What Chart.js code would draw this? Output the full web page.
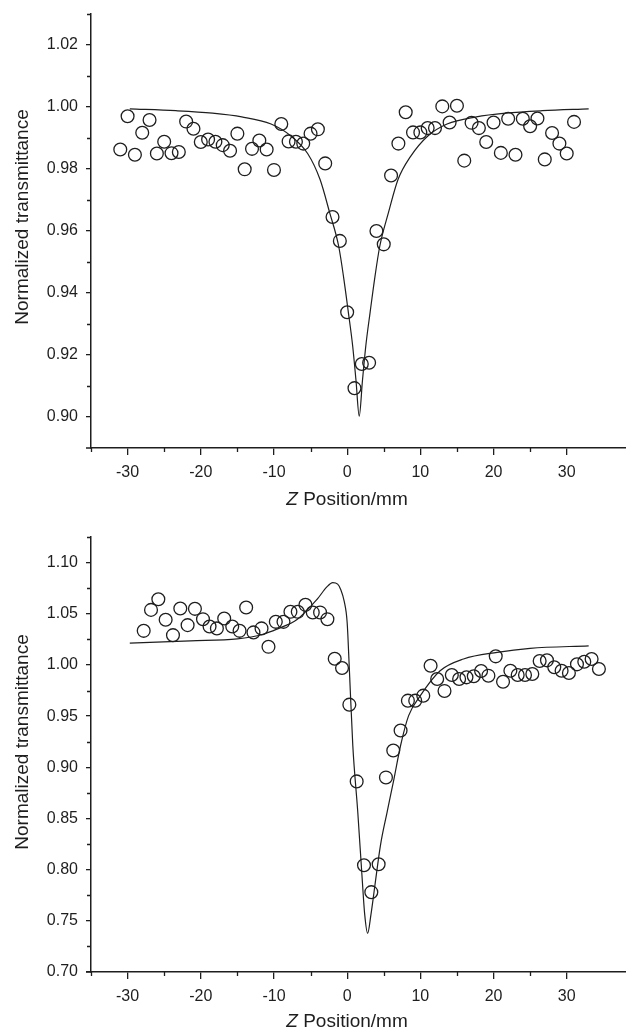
<!DOCTYPE html>
<html lang="en">
<head>
<meta charset="UTF-8">
<title>Z-scan normalized transmittance</title>
<script src="https://cdn.jsdelivr.net/npm/chart.js"></script>
<style>
  body { margin: 0; width: 626px; height: 1030px; overflow: hidden; background: #fff;
         font-family: "Liberation Sans", Arial, sans-serif; color: #1e1e1e; }
  canvas { position: absolute; left: 0; }
  #top { top: 0; }
  #bottom { top: 520px; }
  .ytitle { position: absolute; left: 22px; font-size: 19px; white-space: nowrap;
            transform: translate(-50%, -50%) rotate(-90deg); }
  .xtitle { position: absolute; left: 347px; font-size: 19px; white-space: nowrap;
            transform: translate(-50%, -50%); }
</style>
</head>
<body>
<canvas id="top" width="626" height="500"></canvas>
<canvas id="bottom" width="626" height="510"></canvas>
<div class="ytitle" style="top:217px">Normalized transmittance</div>
<div class="xtitle" style="top:499px"><i>Z</i> Position/mm</div>
<div class="ytitle" style="top:742px">Normalized transmittance</div>
<div class="xtitle" style="top:1021px"><i>Z</i> Position/mm</div>

<script>
// upper panel: measured points
const topX = [-31, -30, -29, -28, -27, -26, -25, -24, -23, -22, -21, -20, -19, -18, -17, -16,
              -15, -14, -13, -12, -11, -10, -9, -8, -7, -6, -5, -4, -3, -2, -1, 0,
              1, 2, 3, 4, 5, 6, 7, 8, 9, 10, 11, 12, 13, 14, 15, 16,
              17, 18, 19, 20, 21, 22, 23, 24, 25, 26, 27, 28, 29, 30, 31];
const topY = [0.9863, 0.9970, 0.9846, 0.9917, 0.9958, 0.9850, 0.9888, 0.9851, 0.9855, 0.9953, 0.9930, 0.9887, 0.9895, 0.9888, 0.9877, 0.9859,
              0.9914, 0.9799, 0.9865, 0.9892, 0.9863, 0.9797, 0.9945, 0.9889, 0.9888, 0.9882, 0.9914, 0.9928, 0.9818, 0.9645, 0.9568, 0.9338,
              0.9093, 0.9171, 0.9175, 0.9600, 0.9557, 0.9779, 0.9882, 0.9983, 0.9918, 0.9918, 0.9932, 0.9932, 1.0002, 0.9950, 1.0004, 0.9827,
              0.9949, 0.9932, 0.9887, 0.9950, 0.9852, 0.9962, 0.9846, 0.9962, 0.9938, 0.9963, 0.9831, 0.9916, 0.9882, 0.9850, 0.9952];
// upper panel: fitted curve
const topFitX = [-29.7, -23.4, -18.4, -14.4, -10.4, -7.6, -5.4, -3.7, -2.4, -1.15, -0.45, 0.15, 0.75, 1.2, 1.65,
                 2.1, 2.55, 3.15, 3.75, 4.45, 5.65, 6.95, 8.65, 10.95, 13.65, 17.65, 21.65, 26.65, 33.0];
const topFitY = [0.9994, 0.9988, 0.9980, 0.9968, 0.9945, 0.9905, 0.9850, 0.9766, 0.9660, 0.9550, 0.9445, 0.9340, 0.9230, 0.9120, 0.9003,
                 0.9120, 0.9230, 0.9340, 0.9445, 0.9550, 0.9660, 0.9766, 0.9840, 0.9905, 0.9945, 0.9968, 0.9980, 0.9988, 0.9994];

// lower panel: measured points
const botX = [-27.8, -26.8, -25.8, -24.8, -23.8, -22.8, -21.8, -20.8, -19.7, -18.8, -17.8, -16.8, -15.7, -14.7, -13.8, -12.8,
              -11.7, -10.75, -9.75, -8.7, -7.75, -6.75, -5.7, -4.7, -3.7, -2.7, -1.7, -0.7, 0.3, 1.3, 2.3, 3.3,
              4.3, 5.3, 6.3, 7.3, 8.3, 9.3, 10.4, 11.4, 12.3, 13.3, 14.3, 15.3, 16.3, 17.3, 18.3, 19.3,
              20.3, 21.3, 22.3, 23.3, 24.3, 25.3, 26.3, 27.3, 28.3, 29.3, 30.3, 31.4, 32.4, 33.4, 34.4];
const botY = [1.0333, 1.0538, 1.0642, 1.0441, 1.0291, 1.0552, 1.0389, 1.0548, 1.0447, 1.0376, 1.0357, 1.0454, 1.0376, 1.0333, 1.0561, 1.0318,
              1.0357, 1.0177, 1.0421, 1.0421, 1.0519, 1.0519, 1.0587, 1.0513, 1.0513, 1.0447, 1.0060, 0.9970, 0.9612, 0.8862, 0.8043, 0.7780,
              0.8053, 0.8901, 0.9164, 0.9359, 0.9651, 0.9651, 0.9700, 0.9992, 0.9863, 0.9746, 0.9902, 0.9863, 0.9879, 0.9889, 0.9941, 0.9895,
              1.0084, 0.9836, 0.9943, 0.9902, 0.9902, 0.9911, 1.0038, 1.0045, 0.9977, 0.9943, 0.9921, 1.0006, 1.0031, 1.0058, 0.9960];
// lower panel: fitted curve
const botFitX = [-29.7, -21.4, -15.0, -11.5, -9.6, -6.8, -4.1, -2.8, -1.97, -1.3, -0.9, -0.4, 0.0, 0.3, 0.77, 1.45, 2.05, 2.4, 2.8,
                 3.25, 3.8, 4.55, 5.46, 6.4, 7.3, 8.4, 10.0, 12.7, 15.9, 20.5, 25.0, 33.0];
const botFitY = [1.0214, 1.0236, 1.0255, 1.0300, 1.0350, 1.0447, 1.0642, 1.0760, 1.0805, 1.0790, 1.0740, 1.0620, 1.0415, 0.9960, 0.9213, 0.8563, 0.7913, 0.7560, 0.7378,
                 0.7560, 0.7850, 0.8238, 0.8563, 0.8888, 0.9213, 0.9505, 0.9700, 0.9943, 1.0058, 1.0123, 1.0162, 1.0187];

// axis ticks (labelled ones and small ones)
const xMajor = [-30, -20, -10, 0, 10, 20, 30];
const xMinor = [-35, -25, -15, -5, 5, 15, 25];
const topYMajor = [0.90, 0.92, 0.94, 0.96, 0.98, 1.00, 1.02];
const topYMinor = [0.91, 0.93, 0.95, 0.97, 0.99, 1.01, 1.03];
const botYMajor = [0.70, 0.75, 0.80, 0.85, 0.90, 0.95, 1.00, 1.05, 1.10];
const botYMinor = [0.725, 0.775, 0.825, 0.875, 0.925, 0.975, 1.025, 1.075, 1.125];

const ink = '#1e1e1e';
const fontFamily = '"Liberation Sans", Arial, sans-serif';

// short unlabeled ticks between the labelled ones, plus the little x-axis overhang at the corner
const minorTicks = {
  id: 'minorTicks',
  afterDraw(chart, args, opts) {
    const { ctx, chartArea, scales } = chart;
    ctx.save();
    ctx.strokeStyle = ink;
    ctx.lineWidth = 1.3;
    ctx.beginPath();
    opts.x.forEach(v => {
      const px = Math.round(scales.x.getPixelForValue(v)) + 0.5;
      ctx.moveTo(px, chartArea.bottom);
      ctx.lineTo(px, chartArea.bottom + 4);
    });
    opts.y.forEach(v => {
      const py = Math.round(scales.y.getPixelForValue(v)) + 0.5;
      ctx.moveTo(chartArea.left, py);
      ctx.lineTo(chartArea.left - 4, py);
    });
    ctx.stroke();
    ctx.lineWidth = 1.5;
    ctx.beginPath();
    ctx.moveTo(chartArea.left - 5, chartArea.bottom);
    ctx.lineTo(chartArea.left, chartArea.bottom);
    ctx.stroke();
    ctx.restore();
  }
};

function pairs(xs, ys) {
  return xs.map((x, i) => ({ x: x, y: ys[i] }));
}

function makeChart(id, pts, fit, yMin, yMax, yMajor, yMinor, padTop, xHeight) {
  return new Chart(document.getElementById(id), {
    type: 'scatter',
    data: {
      datasets: [
        {
          data: pts,
          pointStyle: 'circle',
          pointRadius: 6.4,
          borderWidth: 1.3,
          borderColor: ink,
          backgroundColor: 'rgba(0,0,0,0)'
        },
        {
          type: 'line',
          data: fit,
          showLine: true,
          pointRadius: 0,
          borderColor: ink,
          borderWidth: 1.2,
          cubicInterpolationMode: 'monotone',
          fill: false
        }
      ]
    },
    options: {
      responsive: false,
      animation: false,
      devicePixelRatio: 1,
      layout: { autoPadding: false, padding: { top: padTop, left: 0, right: 0, bottom: 0 } },
      plugins: {
        legend: { display: false },
        tooltip: { enabled: false },
        minorTicks: { x: xMinor, y: yMinor }
      },
      scales: {
        x: {
          type: 'linear',
          min: -35,
          max: 38.1,
          afterBuildTicks: s => { s.ticks = xMajor.map(v => ({ value: v })); },
          afterFit: s => { s.height = xHeight; s.paddingLeft = 0; s.paddingRight = 0; },
          grid: { drawOnChartArea: false, drawTicks: true, tickLength: 7, color: ink, lineWidth: 1.3 },
          border: { display: true, color: ink, width: 1.5 },
          ticks: { color: ink, font: { size: 16, family: fontFamily }, padding: 8, maxRotation: 0,
                   callback: v => String(v) }
        },
        y: {
          type: 'linear',
          min: yMin,
          max: yMax,
          afterBuildTicks: s => { s.ticks = yMajor.map(v => ({ value: v })); },
          afterFit: s => { s.width = 91; s.paddingTop = 0; s.paddingBottom = 0; },
          grid: { drawOnChartArea: false, drawTicks: true, tickLength: 5, color: ink, lineWidth: 1.3 },
          border: { display: true, color: ink, width: 1.5 },
          ticks: { color: ink, font: { size: 16, family: fontFamily }, padding: 8,
                   callback: v => Number(v).toFixed(2) }
        }
      }
    },
    plugins: [minorTicks]
  });
}

makeChart('top', pairs(topX, topY), pairs(topFitX, topFitY),
          0.89, 1.03, topYMajor, topYMinor, 14, 52);
makeChart('bottom', pairs(botX, botY), pairs(botFitX, botFitY),
          0.70, 1.125, botYMajor, botYMinor, 17, 58);
</script>
</body>
</html>
